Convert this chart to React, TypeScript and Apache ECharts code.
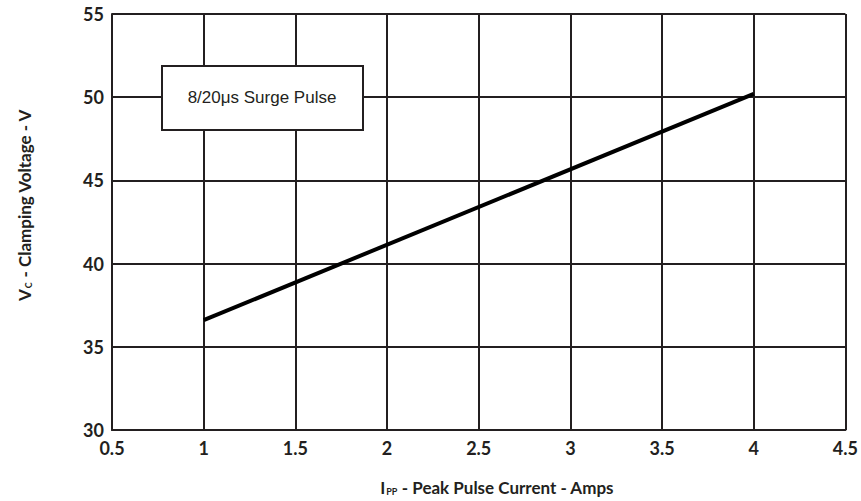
import React, { useEffect, useRef } from "react";
import * as echarts from "echarts";

const currentAmps = [1, 4];
const clampVolts = [36.6, 50.2];
const xTicks = { min: 0.5, max: 4.5, step: 0.5 };
const yTicks = { min: 30, max: 55, step: 5 };
const annotationText = "8/20\u03bcs Surge Pulse";
const xTitle = ["I", "PP", " - Peak Pulse Current - Amps"];
const yTitle = ["V", "C", " - Clamping Voltage - V"];

export default function App() {
  const ref = useRef<HTMLDivElement>(null);
  useEffect(() => {
    const chart = echarts.init(ref.current!, null, { renderer: "svg" });
    const ink = "#231f20";
    const labelFont = { fontFamily: "Lato", fontWeight: "bold" as const, fontSize: 18, color: ink };
    const rich = {
      main: { fontFamily: "Lato", fontWeight: "bold", fontSize: 17, fill: ink, color: ink },
      sub: { fontFamily: "Lato", fontWeight: "bold", fontSize: 9, fill: ink, color: ink, padding: [9, 0, 0, 1] },
    };
    chart.setOption({
      animation: false,
      backgroundColor: "#ffffff",
      grid: { left: 112, right: 9, top: 14, bottom: 71, containLabel: false },
      xAxis: {
        type: "value",
        min: xTicks.min,
        max: xTicks.max,
        interval: xTicks.step,
        axisLine: { show: true, lineStyle: { color: ink, width: 2 } },
        axisTick: { show: false },
        splitLine: { show: true, lineStyle: { color: ink, width: 2 } },
        axisLabel: { ...labelFont, margin: 9 },
      },
      yAxis: {
        type: "value",
        min: yTicks.min,
        max: yTicks.max,
        interval: yTicks.step,
        axisLine: { show: true, lineStyle: { color: ink, width: 2 } },
        axisTick: { show: false },
        splitLine: { show: true, lineStyle: { color: ink, width: 2 } },
        axisLabel: { ...labelFont, margin: 8 },
      },
      series: [
        {
          type: "line",
          data: currentAmps.map((x, i) => [x, clampVolts[i]]),
          showSymbol: false,
          lineStyle: { color: "#000000", width: 4 },
          z: 5,
        },
      ],
      graphic: [
        {
          type: "rect",
          shape: { x: 162, y: 66, width: 201, height: 64 },
          style: { fill: "#ffffff", stroke: ink, lineWidth: 2 },
          z: 100,
        },
        {
          type: "text",
          x: 262,
          y: 97,
          style: {
            text: annotationText,
            fontFamily: "Liberation Sans",
            fontSize: 17,
            fill: ink,
            align: "center",
            verticalAlign: "middle",
          },
          z: 101,
        },
        {
          type: "text",
          x: 497,
          y: 487,
          style: {
            text: `{main|${xTitle[0]}}{sub|${xTitle[1]}}{main|${xTitle[2]}}`,
            rich,
            align: "center",
            verticalAlign: "middle",
          },
        },
        {
          type: "text",
          x: 24,
          y: 205,
          rotation: Math.PI / 2,
          style: {
            text: `{main|${yTitle[0]}}{sub|${yTitle[1]}}{main|${yTitle[2]}}`,
            rich,
            align: "center",
            verticalAlign: "middle",
          },
        },
      ],
    });
    return () => chart.dispose();
  }, []);
  return (
    <div
      ref={ref}
      style={{ position: "fixed", left: 0, top: 0, width: 861, height: 501 }}
    />
  );
}
